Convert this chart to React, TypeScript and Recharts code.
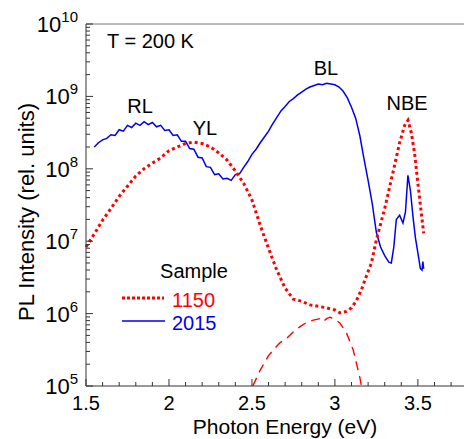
import React from 'react';
import { LineChart, Line, XAxis, YAxis, ReferenceLine } from 'recharts';

// photon energy (eV) and log10 of PL intensity
const ENERGY_2015 = [
  1.55, 1.575, 1.6, 1.625, 1.65, 1.675, 1.7, 1.725, 1.75, 1.775, 1.8, 1.825, 1.85, 1.875, 1.9, 1.925,
  1.95, 1.975, 2.0, 2.025, 2.05, 2.075, 2.1, 2.125, 2.15, 2.175, 2.2, 2.225, 2.25, 2.275, 2.3, 2.325,
  2.35, 2.375, 2.4, 2.425, 2.45, 2.475, 2.5, 2.525, 2.55, 2.575, 2.6, 2.625, 2.65, 2.675, 2.7, 2.725,
  2.75, 2.775, 2.8, 2.825, 2.85, 2.875, 2.9, 2.925, 2.95, 2.975, 3.0, 3.025, 3.05, 3.075, 3.1, 3.125,
  3.15, 3.175, 3.2, 3.225, 3.25, 3.275, 3.3, 3.325, 3.34, 3.355, 3.37, 3.39, 3.41, 3.425, 3.44, 3.455,
  3.47, 3.485, 3.5, 3.515, 3.525, 3.53, 3.535,
];
const LOG_I_2015 = [
  8.3, 8.36, 8.4, 8.42, 8.47, 8.46, 8.54, 8.52, 8.6, 8.57, 8.63, 8.6, 8.65, 8.61, 8.64, 8.58,
  8.6, 8.53, 8.54, 8.46, 8.47, 8.38, 8.38, 8.28, 8.27, 8.16, 8.15, 8.03, 8.02, 7.92, 7.93, 7.86,
  7.87, 7.84, 7.92, 7.93, 8.02, 8.1, 8.2, 8.27, 8.36, 8.44, 8.52, 8.62, 8.71, 8.8, 8.86, 8.93,
  8.97, 9.02, 9.06, 9.1, 9.13, 9.15, 9.17, 9.16, 9.18, 9.17, 9.16, 9.13, 9.07, 8.98, 8.85, 8.7,
  8.46, 8.14, 7.84, 7.52, 7.12, 6.92, 6.8, 6.71, 6.7, 6.92, 7.3, 7.36, 7.25, 7.4, 7.91, 7.7,
  7.35, 7.05, 6.84, 6.62, 6.6, 6.72, 6.62,
];

const ENERGY_1150 = [
  1.5, 1.55, 1.6, 1.65, 1.7, 1.75, 1.8, 1.85, 1.9, 1.95, 2.0, 2.05, 2.1, 2.15, 2.2, 2.25, 2.3, 2.35,
  2.4, 2.45, 2.5, 2.55, 2.6, 2.65, 2.7, 2.75, 2.8, 2.85, 2.9, 2.95, 3.0, 3.03, 3.07, 3.1, 3.13, 3.16,
  3.19, 3.22, 3.25, 3.3, 3.35, 3.39, 3.42, 3.44, 3.46, 3.48, 3.5, 3.52, 3.535,
];
const LOG_I_1150 = [
  6.92, 7.1, 7.29, 7.45, 7.62, 7.76, 7.9, 8.0, 8.08, 8.15, 8.25, 8.3, 8.35, 8.37, 8.35, 8.3, 8.22, 8.12,
  7.97, 7.8, 7.57, 7.22, 6.9, 6.6, 6.35, 6.2, 6.17, 6.12, 6.1, 6.08, 6.05, 6.01, 6.03, 6.08, 6.18, 6.33,
  6.52, 6.7, 7.02, 7.45, 7.95, 8.36, 8.6, 8.67, 8.5, 8.22, 7.8, 7.4, 7.11,
];

// dashed component under the BL band
const ENERGY_BL = [
  2.505, 2.55, 2.6, 2.63, 2.67, 2.71, 2.75, 2.79, 2.83, 2.87, 2.91, 2.93, 2.95, 2.97, 3.0, 3.03, 3.07,
  3.11, 3.15, 3.16,
];
const LOG_I_BL = [
  5.0, 5.22, 5.42, 5.5, 5.6, 5.66, 5.75, 5.82, 5.88, 5.91, 5.93, 5.89, 5.93, 5.95, 5.92, 5.87, 5.73,
  5.5, 5.12, 5.0,
];

const X_MAJOR = [1.5, 2, 2.5, 3, 3.5];
const X_TICKS = [
  1.5, 1.6, 1.7, 1.8, 1.9, 2, 2.1, 2.2, 2.3, 2.4, 2.5, 2.6, 2.7, 2.8, 2.9, 3, 3.1, 3.2, 3.3, 3.4, 3.5,
  3.6, 3.7,
];
const Y_DECADES = [5, 6, 7, 8, 9, 10];
const Y_MULT = [1, 2, 3, 4, 5, 6, 7, 8, 9];

const Y_TICKS: number[] = [];
Y_DECADES.forEach((d) => {
  Y_MULT.forEach((m) => {
    if (d < 10 || m === 1) Y_TICKS.push(m * 10 ** d);
  });
});

const toPoints = (xs: number[], logs: number[]) => xs.map((x, i) => ({ x, y: 10 ** logs[i] }));
const data2015 = toPoints(ENERGY_2015, LOG_I_2015);
const data1150 = toPoints(ENERGY_1150, LOG_I_1150);
const dataBL = toPoints(ENERGY_BL, LOG_I_BL);

const AXIS = '#333';
const RED = '#ff0000';
const BLUE = '#0000ee';
const FONT = '"Liberation Sans", Arial, sans-serif';

const isDecade = (v: number) => {
  const e = Math.round(Math.log10(v));
  return Math.abs(v - 10 ** e) < v * 1e-6;
};

const XTick = (props: any) => {
  const { x, y, payload } = props;
  const v = payload.value;
  const major = X_MAJOR.some((m) => Math.abs(m - v) < 1e-6);
  return (
    <g>
      <line x1={x} x2={x} y1={y} y2={y - (major ? 7 : 4)} stroke={AXIS} />
      {major && (
        <text x={x} y={y + 24} textAnchor="middle" fontSize={20} fill="#000" fontFamily={FONT}>
          {String(v)}
        </text>
      )}
    </g>
  );
};

const YTick = (props: any) => {
  const { x, y, payload } = props;
  const v = payload.value;
  const major = isDecade(v);
  return (
    <g>
      <line x1={x} x2={x + (major ? 7 : 4)} y1={y} y2={y} stroke={AXIS} />
      {major && (
        <text x={x - 8} y={y + 8} textAnchor="end" fill="#000" fontFamily={FONT}>
          <tspan fontSize={22}>10</tspan>
          <tspan fontSize={15} dy={-10}>
            {Math.round(Math.log10(v))}
          </tspan>
        </text>
      )}
    </g>
  );
};

const RightTick = (props: any) => {
  const { x, y, payload } = props;
  const major = isDecade(payload.value);
  return <line x1={x} x2={x - (major ? 7 : 4)} y1={y} y2={y} stroke={AXIS} />;
};

export default function App() {
  return (
    <div
      style={{
        position: 'absolute',
        left: 0,
        top: 0,
        width: 464,
        height: 439,
        overflow: 'hidden',
        background: '#fff',
        fontFamily: FONT,
      }}
    >
      <LineChart width={478} height={439} margin={{ top: 24, right: 12, bottom: 13, left: 26 }}>
        <XAxis
          type="number"
          dataKey="x"
          domain={[1.5, 3.79]}
          ticks={X_TICKS}
          interval={0}
          tick={XTick}
          tickSize={0}
          tickMargin={0}
          tickLine={false}
          height={40}
          axisLine={{ stroke: AXIS }}
        />
        <YAxis
          yAxisId="left"
          scale="log"
          domain={[1e5, 1e10]}
          allowDataOverflow
          ticks={Y_TICKS}
          interval={0}
          tick={YTick}
          tickSize={0}
          tickMargin={0}
          tickLine={false}
          width={60}
          axisLine={{ stroke: AXIS }}
        />
        <YAxis
          yAxisId="right"
          orientation="right"
          scale="log"
          domain={[1e5, 1e10]}
          allowDataOverflow
          ticks={Y_TICKS}
          interval={0}
          tick={RightTick}
          tickSize={0}
          tickMargin={0}
          tickLine={false}
          width={0}
          axisLine={{ stroke: AXIS }}
        />
        <ReferenceLine yAxisId="left" y={1e10} stroke="#777" />
        <Line
          yAxisId="left"
          data={dataBL}
          dataKey="y"
          stroke={RED}
          strokeWidth={1.4}
          strokeDasharray="9 6"
          dot={false}
          type="linear"
          isAnimationActive={false}
        />
        <Line
          yAxisId="left"
          data={data2015}
          dataKey="y"
          stroke={BLUE}
          strokeWidth={1.5}
          dot={false}
          type="linear"
          isAnimationActive={false}
        />
        <Line
          yAxisId="left"
          data={data1150}
          dataKey="y"
          stroke={RED}
          strokeWidth={3}
          strokeDasharray="3 3"
          dot={false}
          type="linear"
          isAnimationActive={false}
        />
      </LineChart>
      <svg
        width={464}
        height={439}
        style={{ position: 'absolute', left: 0, top: 0, pointerEvents: 'none' }}
        fontFamily={FONT}
      >
        <text x={107} y={48} fontSize={20} fill="#000">T = 200 K</text>
        <text x={140} y={113} fontSize={20} fill="#000" textAnchor="middle">RL</text>
        <text x={205} y={135} fontSize={20} fill="#000" textAnchor="middle">YL</text>
        <text x={326} y={75} fontSize={20} fill="#000" textAnchor="middle">BL</text>
        <text x={407} y={110} fontSize={20} fill="#000" textAnchor="middle">NBE</text>

        <text x={194} y={278} fontSize={20} fill="#000" textAnchor="middle">Sample</text>
        <line x1={122} x2={164} y1={298} y2={298} stroke={RED} strokeWidth={3} strokeDasharray="3 2" />
        <text x={172} y={307} fontSize={20} fill={RED}>1150</text>
        <line x1={122} x2={165} y1={321} y2={321} stroke={BLUE} strokeWidth={1.5} />
        <text x={172} y={330} fontSize={20} fill={BLUE}>2015</text>

        <text
          x={34}
          y={212}
          fontSize={22}
          fill="#000"
          textAnchor="middle"
          transform="rotate(-90 34 212)"
        >
          PL Intensity (rel. units)
        </text>
        <text x={285} y={434} fontSize={21} fill="#000" textAnchor="middle">
          Photon Energy (eV)
        </text>
      </svg>
    </div>
  );
}
